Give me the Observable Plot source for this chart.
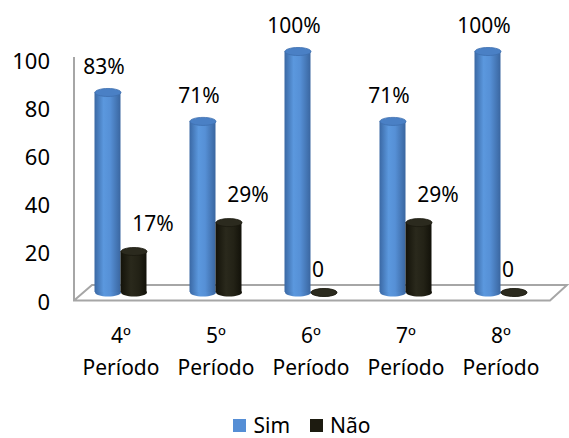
<!DOCTYPE html>
<html><head><meta charset="utf-8">
<script src="https://cdn.jsdelivr.net/npm/d3@7"></script>
<script src="https://cdn.jsdelivr.net/npm/@observablehq/plot@0.6"></script>
<style>
body{margin:0;background:#fff;font-family:"Noto Sans",sans-serif;width:569px;height:438px;overflow:hidden;}
#legend{display:flex;justify-content:center;align-items:center;margin-top:8px;line-height:22px;height:24px;font-size:21px;color:#000;padding-left:35px;}
#legend span.sw{display:inline-block;width:13px;height:13px;margin-right:7px;}
#legend span.item{display:inline-flex;align-items:center;margin:0 10px;}
</style></head><body>
<div id="chart"></div>
<div id="legend"></div>
<script>
const periodos = ["4º Período","5º Período","6º Período","7º Período","8º Período"];
const sim = [83, 71, 100, 71, 100];
const nao = [17, 29, 0, 29, 0];
const series = ["Sim", "Não"];
const seriesColors = ["#558ed5", "#1d1b10"];
const yTicks = [0, 20, 40, 60, 80, 100];

const simRows = periodos.map((p, i) => ({periodo: p, serie: "Sim", valor: sim[i]}));
const naoRows = periodos.map((p, i) => ({periodo: p, serie: "Não", valor: nao[i]}));

const ellipse = {
  draw(ctx) {
    const rx = 13, ry = 4, k = 0.5523;
    ctx.moveTo(rx, 0);
    ctx.bezierCurveTo(rx, ry * k, rx * k, ry, 0, ry);
    ctx.bezierCurveTo(-rx * k, ry, -rx, ry * k, -rx, 0);
    ctx.bezierCurveTo(-rx, -ry * k, -rx * k, -ry, 0, -ry);
    ctx.bezierCurveTo(rx * k, -ry, rx, -ry * k, rx, 0);
    ctx.closePath();
  }
};

const defs = () => {
  const d = d3.create("svg:defs");
  const add = (id, stops) => {
    const g = d.append("linearGradient").attr("id", id).attr("x1", 0).attr("x2", 1).attr("y1", 0).attr("y2", 0);
    for (const [o, c] of stops) g.append("stop").attr("offset", o).attr("stop-color", c);
  };
  add("gSim", [[0, "#3a68a4"], [0.35, "#5b98de"], [0.6, "#5690d6"], [1, "#3a66a0"]]);
  add("gNao", [[0, "#131209"], [0.4, "#2a291c"], [0.7, "#232216"], [1, "#121109"]]);
  return d.node();
};

const floor = (index, scales, values, dims) => {
  const {width, marginLeft, marginRight} = dims;
  const y0 = scales.y(0), y100 = scales.y(100);
  const g = d3.create("svg:g").attr("fill", "none").attr("stroke", "#a6a6a6").attr("stroke-width", 2);
  const L = marginLeft + 1.5, R = width - marginRight + 2.5;
  const front = y0 + 8.5, back = y0 - 7;
  g.append("path").attr("d", `M${L},${y100 + 6}V${front}H${R}L${R + 17},${back}H${L + 18}L${L},${front}`);
  return g.node();
};

const W = 569, H = 405;
const chart = Plot.plot({
  width: W, height: H,
  marginLeft: 72.5, marginRight: 21.5, marginTop: 51, marginBottom: H - 292,
  style: {fontFamily: "Noto Sans, sans-serif", fontSize: "22px", color: "#000", background: "#fff"},
  x: {type: "band", domain: periodos, padding: 0},
  y: {domain: [0, 100], range: [292, 51]},
  marks: [
    defs,
    floor,
    Plot.axisY({ticks: yTicks, tickSize: 0, tickPadding: 23, dy: 10, fill: "#000", fontSize: 22, label: null}),
    Plot.axisX({tickSize: 0, tickPadding: 27, lineHeight: 1.55, tickFormat: d => d.replace(" ", "\n"), fill: "#000", fontSize: 21, label: null}),
    // Sim cylinders
    Plot.dot(simRows, {x: "periodo", y: () => 0, symbol: ellipse, dx: -13, fill: "url(#gSim)"}),
    Plot.barY(simRows, {x: "periodo", y: "valor", fill: "url(#gSim)", insetLeft: 21.5, insetRight: 47.5}),
    Plot.dot(simRows, {x: "periodo", y: "valor", symbol: ellipse, dx: -13, fill: "#4a80c5", stroke: "#3d6eae", strokeWidth: 0.8}),
    // Não cylinders
    Plot.dot(naoRows, {x: "periodo", y: () => 0, symbol: ellipse, dx: 13, fill: "url(#gNao)"}),
    Plot.barY(naoRows.filter(d => d.valor > 0), {x: "periodo", y: "valor", fill: "url(#gNao)", insetLeft: 47.5, insetRight: 21.5}),
    Plot.dot(naoRows, {x: "periodo", y: "valor", symbol: ellipse, dx: 13, fill: "#2b2a1e", stroke: "#1a190f", strokeWidth: 0.8}),
    // labels
    Plot.text(simRows, {x: "periodo", y: "valor", text: d => d.valor + "%", dx: -17, dy: -25, fill: "#000", fontSize: 21}),
    Plot.text(naoRows.filter(d => d.valor > 0), {x: "periodo", y: "valor", text: d => d.valor + "%", dx: 32, dy: -27, fill: "#000", fontSize: 21}),
    Plot.text(naoRows.filter(d => d.valor === 0), {x: "periodo", y: "valor", text: d => String(d.valor), dx: 7, dy: -22, fill: "#000", fontSize: 21})
  ]
});
document.getElementById("chart").appendChild(chart);

const legend = document.getElementById("legend");
series.forEach((s, i) => {
  const item = document.createElement("span");
  item.className = "item";
  const sw = document.createElement("span");
  sw.className = "sw";
  sw.style.background = seriesColors[i];
  item.appendChild(sw);
  item.appendChild(document.createTextNode(s));
  legend.appendChild(item);
});
</script>
</body></html>
